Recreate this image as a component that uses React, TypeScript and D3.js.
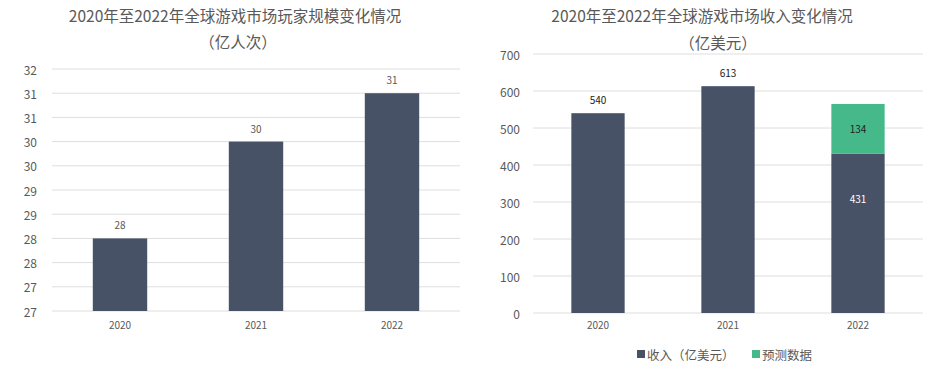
import { useEffect, useRef } from 'react';
import * as d3 from 'd3';

const years = ['2020', '2021', '2022'];
// player counts (亿人次); bar heights, labels as printed
const playerValues = [28.5, 30.5, 31.5];
const playerLabels = ['28', '30', '31'];
const playerTicks = [27, 27.5, 28, 28.5, 29, 29.5, 30, 30.5, 31, 31.5, 32];
const playerTickLabels = ['27', '27', '28', '28', '29', '29', '30', '30', '31', '31', '32'];

// revenue (亿美元)
const revenueValues = [540, 613, 431];
const forecastValues = [0, 0, 134];
const revenueTicks = [0, 100, 200, 300, 400, 500, 600, 700];

const DARK = '#475266';
const GREEN = '#45b98a';
const TEXT = '#595959';
const GRID = '#dedede';
const FONT = '"Noto Sans CJK SC", "Noto Sans", sans-serif';

export default function App() {
  const svgRef = useRef<SVGSVGElement>(null);

  useEffect(() => {
    if (!svgRef.current) return;
    const svg = d3.select(svgRef.current);
    svg.selectAll('*').remove();
    svg.attr('font-family', FONT);

    // ---------- left chart ----------
    const left = svg.append('g');
    const x1 = d3.scaleBand().domain(years).range([52, 460]).paddingInner(0.6).paddingOuter(0.3);
    const y1 = d3.scaleLinear().domain([27, 32]).range([311, 69]);

    left.append('text').attr('x', 235).attr('y', 22).attr('text-anchor', 'middle')
      .attr('font-size', 15.5).attr('fill', TEXT)
      .text('2020年至2022年全球游戏市场玩家规模变化情况');
    left.append('text').attr('x', 238).attr('y', 48).attr('text-anchor', 'middle')
      .attr('font-size', 15.5).attr('fill', TEXT).text('（亿人次）');

    left.selectAll('.grid').data(playerTicks).enter().append('line')
      .attr('x1', 52).attr('x2', 460)
      .attr('y1', d => y1(d)).attr('y2', d => y1(d))
      .attr('stroke', GRID).attr('stroke-width', 1);

    left.selectAll('.tick').data(playerTicks).enter().append('text')
      .attr('x', 37).attr('y', d => y1(d)).attr('text-anchor', 'end')
      .attr('dominant-baseline', 'central').attr('font-size', 12).attr('fill', TEXT)
      .text((_, i) => playerTickLabels[i]);

    left.selectAll('.bar').data(playerValues).enter().append('rect')
      .attr('x', (_, i) => x1(years[i]) || 0).attr('width', x1.bandwidth())
      .attr('y', d => y1(d)).attr('height', d => y1(27) - y1(d))
      .attr('fill', DARK);

    left.selectAll('.val').data(playerValues).enter().append('text')
      .attr('x', (_, i) => (x1(years[i]) || 0) + x1.bandwidth() / 2)
      .attr('y', d => y1(d) - 9).attr('text-anchor', 'middle')
      .attr('font-size', 10).attr('fill', TEXT)
      .text((_, i) => playerLabels[i]);

    left.selectAll('.xl').data(years).enter().append('text')
      .attr('x', d => (x1(d) || 0) + x1.bandwidth() / 2).attr('y', 329)
      .attr('text-anchor', 'middle').attr('font-size', 10).attr('fill', TEXT)
      .text(d => d);

    // ---------- right chart ----------
    const right = svg.append('g');
    const x2 = d3.scaleBand().domain(years).range([533, 923]).paddingInner(0.59).paddingOuter(0.295);
    const y2 = d3.scaleLinear().domain([0, 700]).range([313, 54]);

    right.append('text').attr('x', 702).attr('y', 22).attr('text-anchor', 'middle')
      .attr('font-size', 15.5).attr('fill', TEXT)
      .text('2020年至2022年全球游戏市场收入变化情况');
    right.append('text').attr('x', 718).attr('y', 49).attr('text-anchor', 'middle')
      .attr('font-size', 15.5).attr('fill', TEXT).text('（亿美元）');

    right.selectAll('.grid').data(revenueTicks).enter().append('line')
      .attr('x1', 533).attr('x2', 923)
      .attr('y1', d => y2(d)).attr('y2', d => y2(d))
      .attr('stroke', GRID).attr('stroke-width', 1);

    right.selectAll('.tick').data(revenueTicks).enter().append('text')
      .attr('x', 520).attr('y', d => y2(d)).attr('text-anchor', 'end')
      .attr('dominant-baseline', 'central').attr('font-size', 12).attr('fill', TEXT)
      .text(d => d);

    right.selectAll('.bar').data(revenueValues).enter().append('rect')
      .attr('x', (_, i) => x2(years[i]) || 0).attr('width', x2.bandwidth())
      .attr('y', d => y2(d)).attr('height', d => y2(0) - y2(d))
      .attr('fill', DARK);

    right.selectAll('.fc').data(forecastValues).enter().append('rect')
      .attr('x', (_, i) => x2(years[i]) || 0).attr('width', x2.bandwidth())
      .attr('y', (d, i) => y2(revenueValues[i] + d))
      .attr('height', (d, i) => y2(revenueValues[i]) - y2(revenueValues[i] + d))
      .attr('fill', GREEN);

    // value labels: outside for plain bars, inside for the stacked one
    years.forEach((yr, i) => {
      const cx = (x2(yr) || 0) + x2.bandwidth() / 2;
      if (forecastValues[i] > 0) {
        right.append('text').attr('x', cx)
          .attr('y', y2(revenueValues[i]) + 45).attr('dominant-baseline', 'central')
          .attr('text-anchor', 'middle').attr('font-size', 10).attr('fill', '#ffffff')
          .text(revenueValues[i]);
        right.append('text').attr('x', cx)
          .attr('y', (y2(revenueValues[i]) + y2(revenueValues[i] + forecastValues[i])) / 2)
          .attr('dominant-baseline', 'central')
          .attr('text-anchor', 'middle').attr('font-size', 10).attr('fill', '#222222')
          .text(forecastValues[i]);
      } else {
        right.append('text').attr('x', cx).attr('y', y2(revenueValues[i]) - 9)
          .attr('text-anchor', 'middle').attr('font-size', 10).attr('fill', '#222222')
          .text(revenueValues[i]);
      }
    });

    right.selectAll('.xl').data(years).enter().append('text')
      .attr('x', d => (x2(d) || 0) + x2.bandwidth() / 2).attr('y', 329)
      .attr('text-anchor', 'middle').attr('font-size', 10).attr('fill', TEXT)
      .text(d => d);

    // legend
    const legend = right.append('g');
    legend.append('rect').attr('x', 637).attr('y', 350).attr('width', 8).attr('height', 8).attr('fill', DARK);
    legend.append('text').attr('x', 647).attr('y', 354).attr('dominant-baseline', 'central')
      .attr('font-size', 12.5).attr('fill', TEXT).text('收入（亿美元）');
    legend.append('rect').attr('x', 752).attr('y', 350).attr('width', 8).attr('height', 8).attr('fill', GREEN);
    legend.append('text').attr('x', 762).attr('y', 354).attr('dominant-baseline', 'central')
      .attr('font-size', 12.5).attr('fill', TEXT).text('预测数据');
  }, []);

  return (
    <div style={{ position: 'absolute', left: 0, top: 0 }}>
      <svg ref={svgRef} width={934} height={366} style={{ display: 'block', background: '#ffffff' }} />
    </div>
  );
}
